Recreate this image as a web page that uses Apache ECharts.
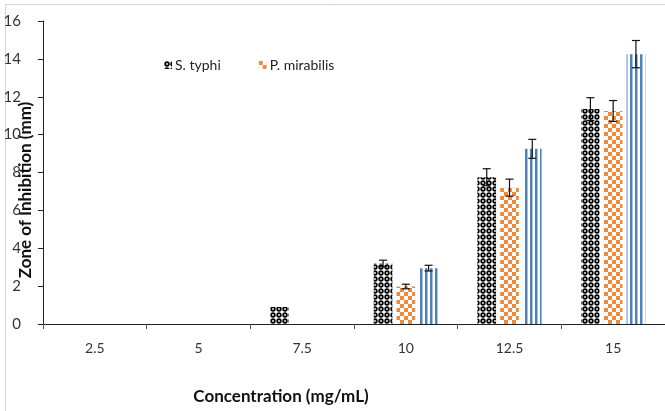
<!DOCTYPE html>
<html>
<head>
<meta charset="utf-8">
<script src="https://cdn.jsdelivr.net/npm/echarts@6/dist/echarts.min.js"></script>
<style>
  html, body { margin: 0; padding: 0; background: #fff; }
  #chart { width: 665px; height: 411px; }
</style>
</head>
<body>
<div id="chart"></div>
<script>
const categories = ["2.5", "5", "7.5", "10", "12.5", "15"];
const styphi = [0, 0, 0.9, 3.2, 7.75, 11.35];
const styphiErr = [0, 0, 0, 0.17, 0.45, 0.6];
const pmirabilis = [0, 0, 0, 1.98, 7.2, 11.25];
const pmirabilisErr = [0, 0, 0, 0.12, 0.45, 0.55];
const third = [0, 0, 0, 2.95, 9.25, 14.25];
const thirdErr = [0, 0, 0, 0.15, 0.5, 0.72];
const yTicks = [0, 2, 4, 6, 8, 10, 12, 14, 16];

// pattern tiles
function tile(w, h, draw) {
  const c = document.createElement("canvas");
  c.width = w; c.height = h;
  draw(c.getContext("2d"));
  return c;
}
const dotTile = tile(6, 6, (ctx) => {
  ctx.fillStyle = "#fff"; ctx.fillRect(0, 0, 6, 6);
  ctx.fillStyle = "#000";
  ctx.beginPath(); ctx.arc(3, 3, 2.7, 0, Math.PI * 2); ctx.fill();
  ctx.fillStyle = "#fff";
  ctx.beginPath(); ctx.arc(3, 3, 0.9, 0, Math.PI * 2); ctx.fill();
});
const checkTile = tile(8, 8, (ctx) => {
  ctx.fillStyle = "#fff"; ctx.fillRect(0, 0, 8, 8);
  ctx.fillStyle = "#ef8a3c";
  ctx.fillRect(0, 0, 4, 4); ctx.fillRect(4, 4, 4, 4);
});
const stripeTile = tile(5, 4, (ctx) => {
  ctx.fillStyle = "#fff"; ctx.fillRect(0, 0, 5, 4);
  ctx.fillStyle = "#4f81bd"; ctx.fillRect(0, 0, 2.5, 4);
});

const chart = echarts.init(document.getElementById("chart"), null, { renderer: "canvas" });

const BAR_W = 0.18, BAR_GAP = 0.22;
const errData = [];
[[styphi, styphiErr], [pmirabilis, pmirabilisErr], [third, thirdErr]].forEach((pair, s) => {
  pair[0].forEach((v, i) => {
    if (pair[1][i] > 0) errData.push([i, v, pair[1][i], s]);
  });
});

const option = {
  backgroundColor: "#fff",
  animation: false,
  textStyle: { fontFamily: "Lato" },
  grid: { left: 43, right: -5, top: 21, bottom: 87 },
  legend: {
    data: ["S. typhi", "P. mirabilis"],
    left: 159, top: 53,
    icon: "rect", itemWidth: 8, itemHeight: 8, itemGap: 38,
    textStyle: { fontSize: 14, color: "#222", fontFamily: "Lato", padding: [0, 0, 0, -2] },
  },
  xAxis: {
    type: "category",
    data: categories,
    axisLine: { lineStyle: { color: "#222" } },
    axisTick: { show: true, length: 5, lineStyle: { color: "#555" } },
    axisLabel: { color: "#333", fontSize: 14, margin: 17 },
  },
  yAxis: {
    type: "value",
    min: yTicks[0], max: yTicks[yTicks.length - 1], interval: 2,
    axisLine: { show: true, lineStyle: { color: "#222" } },
    axisTick: { show: true, length: 5, lineStyle: { color: "#222" } },
    splitLine: { show: false },
    axisLabel: { color: "#333", fontSize: 15, margin: 22 },
  },
  series: [
    {
      name: "S. typhi", type: "bar", data: styphi,
      barWidth: BAR_W * 100 + "%", barGap: BAR_GAP * 100 + "%",
      itemStyle: { color: { image: dotTile, repeat: "repeat" } },
    },
    {
      name: "P. mirabilis", type: "bar", data: pmirabilis,
      barWidth: BAR_W * 100 + "%", barGap: BAR_GAP * 100 + "%",
      itemStyle: { color: { image: checkTile, repeat: "repeat" } },
    },
    {
      name: "Series3", type: "bar", data: third,
      barWidth: BAR_W * 100 + "%", barGap: BAR_GAP * 100 + "%",
      itemStyle: { color: { image: stripeTile, repeat: "repeat" } },
    },
    {
      type: "custom",
      data: errData,
      encode: { x: 0, y: 1 },
      z: 10,
      renderItem: function (params, api) {
        const band = api.size([1, 0])[0];
        const bw = band * BAR_W;
        const off = (api.value(3) - 1) * bw * (1 + BAR_GAP);
        const v = api.value(1), e = api.value(2);
        const hi = api.coord([api.value(0), v + e]);
        const lo = api.coord([api.value(0), v - e]);
        const x = hi[0] + off, cap = 4;
        const st = { stroke: "#111", lineWidth: 1.2 };
        return {
          type: "group",
          children: [
            { type: "line", shape: { x1: x, y1: hi[1], x2: x, y2: lo[1] }, style: st },
            { type: "line", shape: { x1: x - cap, y1: hi[1], x2: x + cap, y2: hi[1] }, style: st },
            { type: "line", shape: { x1: x - cap, y1: lo[1], x2: x + cap, y2: lo[1] }, style: st },
          ],
        };
      },
    },
  ],
  graphic: [
    { type: "line", shape: { x1: 5.5, y1: 4.5, x2: 5.5, y2: 411 }, style: { stroke: "#d4d4d4", lineWidth: 1 } },
    { type: "line", shape: { x1: 5.5, y1: 4.5, x2: 665, y2: 4.5 }, style: { stroke: "#d4d4d4", lineWidth: 1 } },
    {
      type: "text", x: 26, y: 190, rotation: Math.PI / 2,
      style: {
        text: "Zone of Inhibition (mm)", fontFamily: "Lato", fontWeight: "bold",
        fontSize: 17, fill: "#111", align: "center", verticalAlign: "middle",
      },
    },
    {
      type: "text", x: 281, y: 397,
      style: {
        text: "Concentration (mg/mL)", fontFamily: "Lato", fontWeight: "bold",
        fontSize: 17, fill: "#111", align: "center", verticalAlign: "middle",
      },
    },
  ],
};

chart.setOption(option);
</script>
</body>
</html>
